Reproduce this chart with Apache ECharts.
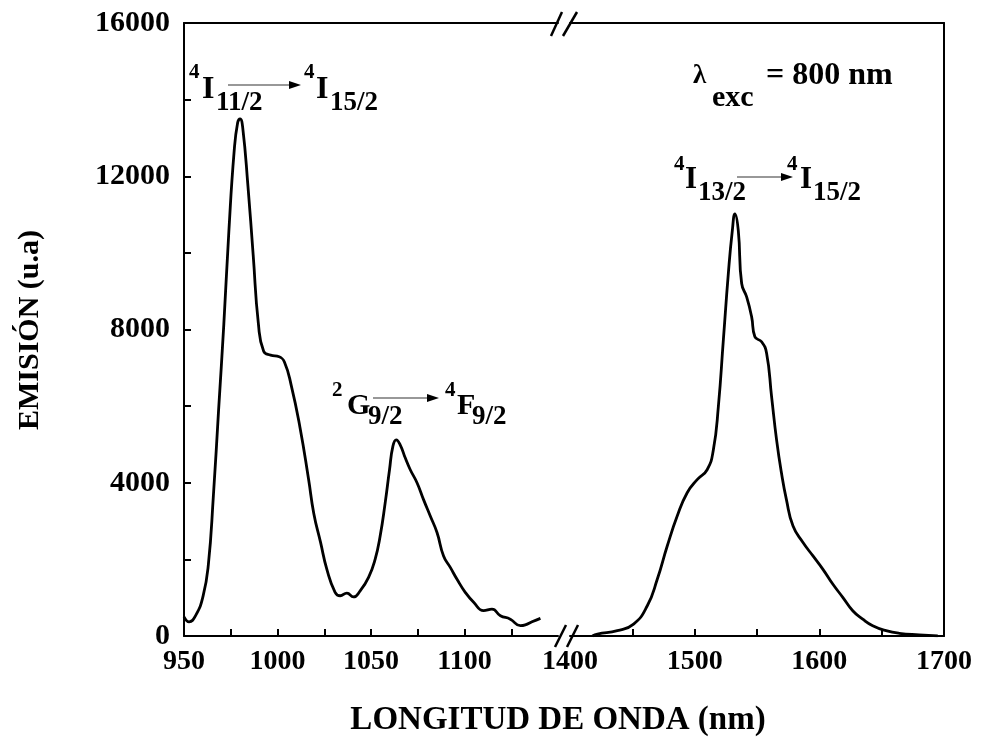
<!DOCTYPE html>
<html>
<head>
<meta charset="utf-8">
<script src="https://cdn.jsdelivr.net/npm/echarts@6/dist/echarts.min.js"></script>
<style>
  html, body { margin: 0; padding: 0; background: #fff; }
  #main { width: 984px; height: 742px; }
</style>
</head>
<body>
<div id="main"></div>
<script>
// left segment (950 - 1150 nm)
var waveA = [950, 952.7, 956.4, 960.2, 963, 965.7, 968.5, 971.3, 974, 976.8, 978.7, 980, 981.4, 984.2, 987, 989.8, 992.6, 996.3, 1000.9, 1003.7, 1007.4, 1012, 1016.6, 1019.4, 1023, 1026.4, 1030.8, 1033.5, 1037.1, 1040.6, 1044.2, 1048.7, 1052.2, 1054.9, 1057.6, 1059.9, 1061.7, 1063.5, 1065.6, 1068.3, 1071, 1074.6, 1078.1, 1081.7, 1085.3, 1088.8, 1092.4, 1096, 1100.4, 1104.9, 1110.2, 1114.7, 1119.2, 1124.5, 1129.9, 1132.5, 1136.1, 1140.6];
var emisA = [500, 370, 550, 1040, 1850, 3650, 5900, 8140, 10570, 12640, 13400, 13500, 13270, 11740, 9940, 8140, 7430, 7330, 7290, 7150, 6530, 5450, 4100, 3200, 2450, 1740, 1140, 1050, 1120, 1020, 1180, 1530, 2000, 2610, 3480, 4340, 4950, 5120, 4990, 4650, 4340, 4000, 3560, 3130, 2700, 2090, 1790, 1480, 1140, 880, 660, 700, 530, 440, 270, 290, 370, 460];

// right segment (1400 - 1700 nm)
var waveB = [1418, 1422, 1438, 1451, 1462, 1470, 1478, 1486, 1494, 1502, 1510, 1515, 1519, 1523, 1527, 1530.2, 1532.3, 1535, 1537.7, 1541.7, 1545.7, 1548.3, 1553.7, 1557.7, 1561.7, 1565.7, 1569.6, 1573.6, 1578.9, 1586.9, 1594.9, 1602.9, 1610.9, 1618.8, 1626.8, 1634.8, 1642.8, 1653.5, 1664.1, 1680.1, 1695];
var emisB = [0, 50, 140, 310, 790, 1480, 2350, 3130, 3740, 4080, 4340, 4860, 5990, 7720, 9460, 10580, 11020, 10580, 9200, 8850, 8330, 7810, 7680, 7380, 6250, 5120, 4260, 3560, 2870, 2440, 2090, 1740, 1350, 1010, 660, 440, 270, 140, 70, 30, 5];

var yTicks = [2000, 4000, 6000, 8000, 10000, 12000, 14000];
var yLabels = [0, 4000, 8000, 12000, 16000];
var xTicksA = [975, 1000, 1025, 1050, 1075, 1100, 1125];
var xLabelsA = [950, 1000, 1050, 1100];
var xTicksB = [1450, 1500, 1550, 1600, 1650];
var xLabelsB = [1400, 1500, 1600, 1700];

var FONT = '"Liberation Serif", "Times New Roman", serif';

function zip(xs, ys) {
  return xs.map(function (x, i) { return [x, ys[i]]; });
}

var lineSt = { color: '#000', width: 2 };
function labelSt(size) {
  return {
    color: '#000', fontFamily: FONT, fontWeight: 'bold', fontSize: size,
    formatter: function (v) { return String(v); }
  };
}

function bottomAxis(grid, min, max, ticks, labels) {
  return {
    gridIndex: grid, type: 'value', min: min, max: max, position: 'bottom',
    axisLine: { show: true, onZero: false, lineStyle: lineSt },
    axisTick: { show: true, inside: true, length: 7, customValues: ticks, lineStyle: lineSt },
    axisLabel: Object.assign({ margin: 12, customValues: labels }, labelSt(28)),
    splitLine: { show: false }
  };
}
function topAxis(grid, min, max) {
  return {
    gridIndex: grid, type: 'value', min: min, max: max, position: 'top',
    axisLine: { show: true, onZero: false, lineStyle: lineSt },
    axisTick: { show: false }, axisLabel: { show: false }, splitLine: { show: false }
  };
}

function txt(x, y, s, size, align, rot) {
  return {
    type: 'text', x: x, y: y, rotation: rot || 0, silent: true,
    style: {
      text: s, fill: '#000', textAlign: align || 'left', textVerticalAlign: 'middle',
      font: 'bold ' + size + 'px ' + FONT
    }
  };
}
function arrow(x1, x2, y) {
  return [
    { type: 'line', shape: { x1: x1, y1: y, x2: x2 - 10, y2: y }, style: { stroke: '#333', lineWidth: 1.2 } },
    { type: 'polygon', shape: { points: [[x2 - 12, y - 4], [x2, y], [x2 - 12, y + 4]] }, style: { fill: '#000' } }
  ];
}
function slash(x1, y1, x2, y2) {
  return { type: 'line', shape: { x1: x1, y1: y1, x2: x2, y2: y2 }, style: { stroke: '#000', lineWidth: 2.5 } };
}

var graphics = [
  txt(30, 330, 'EMISIÓN (u.a)', 30, 'center', Math.PI / 2),
  txt(558, 720, 'LONGITUD DE ONDA (nm)', 33, 'center'),

  txt(189, 73, '4', 21), txt(202, 90, 'I', 32), txt(216, 103, '11/2', 27),
  txt(304, 73, '4', 21), txt(316, 90, 'I', 32), txt(330, 103, '15/2', 27),

  txt(332, 391, '2', 21), txt(347, 406, 'G', 30), txt(368, 417, '9/2', 27),
  txt(445, 391, '4', 21), txt(457, 406, 'F', 30), txt(472, 417, '9/2', 27),

  txt(693, 76, 'λ', 27), txt(712, 98, 'exc', 30), txt(766, 76, '= 800 nm', 32),

  txt(674, 165, '4', 21), txt(685, 180, 'I', 31), txt(698, 193, '13/2', 27),
  txt(787, 165, '4', 21), txt(800, 180, 'I', 31), txt(813, 193, '15/2', 27),

  slash(551, 36, 562, 12), slash(563, 36, 577, 12),
  slash(555, 647, 566, 625), slash(567, 647, 578, 625)
].concat(arrow(228, 301, 85), arrow(373, 439, 398), arrow(737, 793, 177));

var chart = echarts.init(document.getElementById('main'));
chart.setOption({
  animation: false,
  backgroundColor: '#fff',
  grid: [
    { left: 184, top: 23, width: 374, height: 613, outerBoundsMode: 'none' },
    { left: 570, top: 23, width: 374, height: 613, outerBoundsMode: 'none' }
  ],
  xAxis: [
    bottomAxis(0, 950, 1150, xTicksA, xLabelsA),
    bottomAxis(1, 1400, 1700, xTicksB, xLabelsB),
    topAxis(0, 950, 1150),
    topAxis(1, 1400, 1700)
  ],
  yAxis: [
    {
      gridIndex: 0, type: 'value', min: 0, max: 16000, position: 'left',
      axisLine: { show: true, onZero: false, lineStyle: lineSt },
      axisTick: { show: true, inside: true, length: 7, customValues: yTicks, lineStyle: lineSt },
      axisLabel: Object.assign({ margin: 14, customValues: yLabels }, labelSt(30)),
      splitLine: { show: false }
    },
    {
      gridIndex: 1, type: 'value', min: 0, max: 16000, position: 'right',
      axisLine: { show: true, onZero: false, lineStyle: lineSt },
      axisTick: { show: false }, axisLabel: { show: false }, splitLine: { show: false }
    }
  ],
  series: [
    {
      type: 'line', xAxisIndex: 0, yAxisIndex: 0, data: zip(waveA, emisA),
      showSymbol: false, smooth: 0.5,
      lineStyle: { color: '#000', width: 2.8 }
    },
    {
      type: 'line', xAxisIndex: 1, yAxisIndex: 1, data: zip(waveB, emisB),
      showSymbol: false, smooth: 0.5,
      lineStyle: { color: '#000', width: 2.8 }
    }
  ],
  graphic: graphics
});
</script>
</body>
</html>
